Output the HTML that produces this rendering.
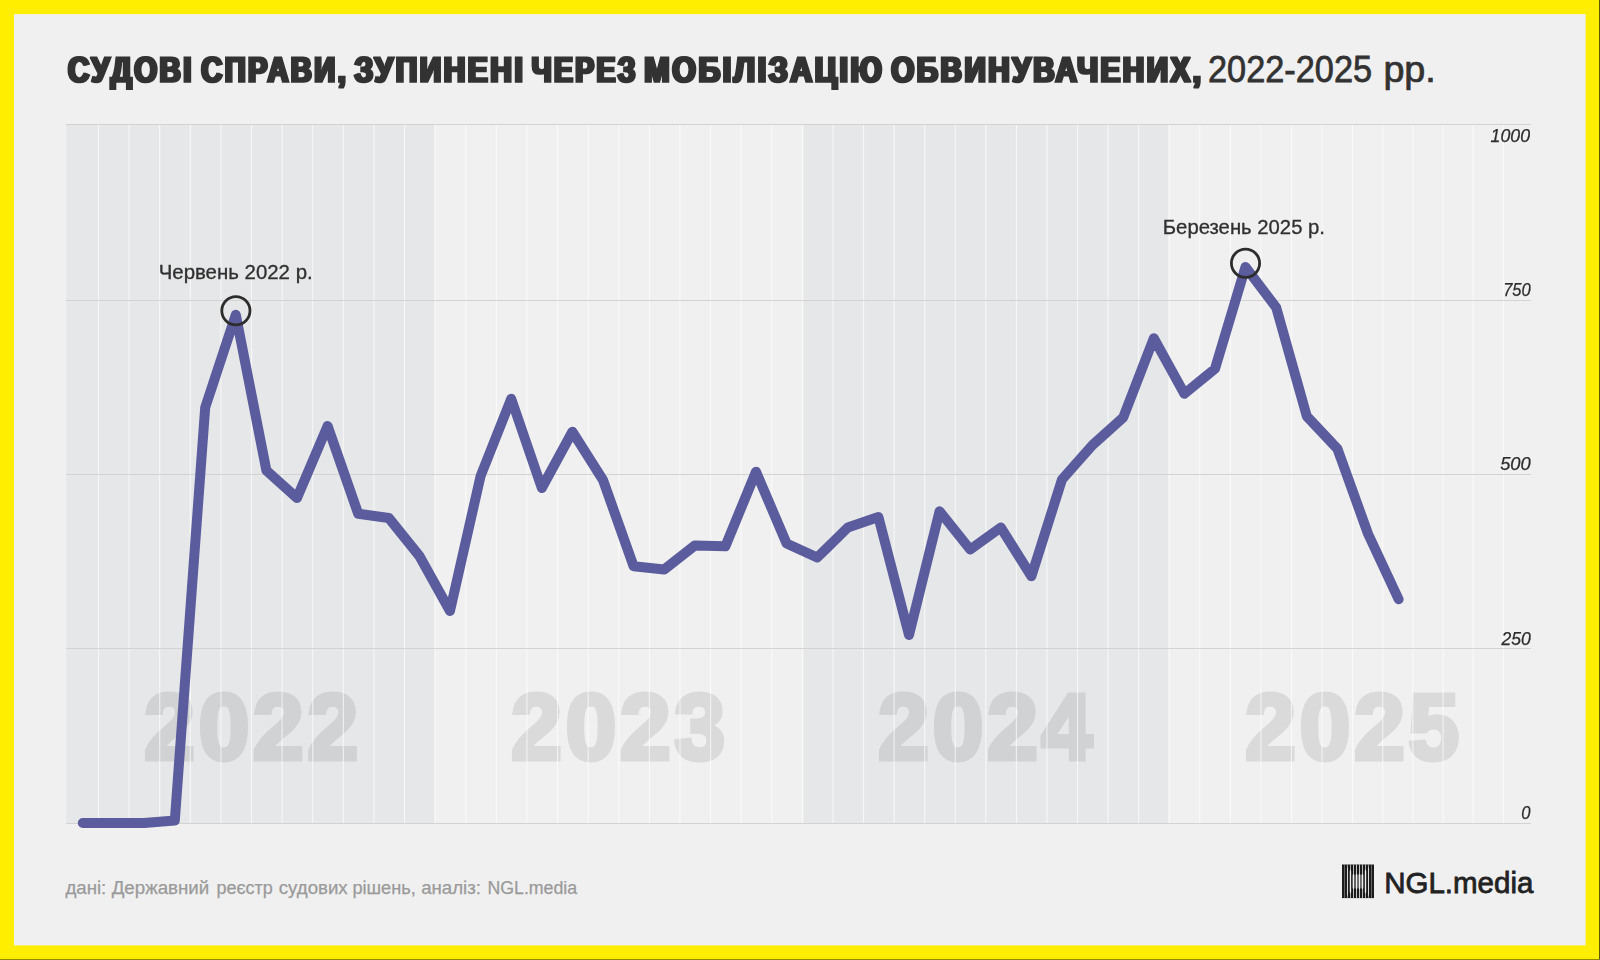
<!DOCTYPE html>
<html lang="uk">
<head>
<meta charset="utf-8">
<title>Судові справи, зупинені через мобілізацію обвинувачених, 2022-2025 рр.</title>
<style>
html,body{margin:0;padding:0;background:#ffee00;}
body{width:1600px;height:960px;overflow:hidden;position:relative;font-family:"Liberation Sans",sans-serif;}
svg{position:absolute;left:0;top:0;display:block}
text{font-family:"Liberation Sans",sans-serif}
.t{text-rendering:geometricPrecision;font-weight:700;font-size:35.9px;letter-spacing:3px;fill:#323232;stroke:#323232;stroke-width:1.7px;stroke-linejoin:miter;stroke-miterlimit:2;filter:url(#dil)}
.t2{font-weight:400;font-size:37px;fill:#323232;stroke:#323232;stroke-width:.75px}
.yl{font-style:italic;font-size:18.6px;fill:#2c2c2c;stroke:#2c2c2c;stroke-width:.25px}
.ann{font-size:19.5px;fill:#303030;stroke:#303030;stroke-width:.3px}
.yr{font-weight:700;font-size:92.5px;letter-spacing:4px;fill:#000;stroke:#000;stroke-width:5px;stroke-linejoin:miter;opacity:.092}
.src{font-size:18px;fill:#9a9a9a;stroke:#9a9a9a;stroke-width:.25px}
.lg{font-size:30px;fill:#222;stroke:#222;stroke-width:.8px}
</style>
</head>
<body>
<svg width="1600" height="960" viewBox="0 0 1600 960">
<defs><filter id="dil" x="-2%" y="-20%" width="104%" height="140%"><feMorphology operator="dilate" radius="1 0"/></filter></defs>
<rect x="0" y="0" width="1600" height="960" fill="#ffee00"/>
<rect x="1599" y="0" width="1" height="960" fill="#5f5800"/>
<rect x="0" y="959.1" width="1600" height=".9" fill="#857c00"/>
<rect x="14" y="14.1" width="1571.6" height="931.3" fill="#f0f0f0"/>

<!-- year bands -->
<rect x="66.3" y="124" width="367.9" height="699.5" fill="#e6e7e8"/>
<rect x="803.5" y="124" width="364.8" height="699.5" fill="#e6e7e8"/>

<!-- year watermarks -->
<g class="yr">
<text transform="translate(144.20 758.6) scale(0.9820 1)">2022</text>
<text transform="translate(511.20 758.6) scale(0.9820 1)">2023</text>
<text transform="translate(878.30 758.6) scale(0.9820 1)">2024</text>
<text transform="translate(1245.30 758.6) scale(0.9820 1)">2025</text>
</g>

<!-- vertical month gridlines -->
<g stroke="#fff" stroke-width="1.1" stroke-opacity=".68"><line x1="98.50" y1="124" x2="98.50" y2="823.5"/><line x1="129.10" y1="124" x2="129.10" y2="823.5"/><line x1="159.71" y1="124" x2="159.71" y2="823.5"/><line x1="190.31" y1="124" x2="190.31" y2="823.5"/><line x1="220.92" y1="124" x2="220.92" y2="823.5"/><line x1="251.52" y1="124" x2="251.52" y2="823.5"/><line x1="282.12" y1="124" x2="282.12" y2="823.5"/><line x1="312.73" y1="124" x2="312.73" y2="823.5"/><line x1="343.33" y1="124" x2="343.33" y2="823.5"/><line x1="373.94" y1="124" x2="373.94" y2="823.5"/><line x1="404.54" y1="124" x2="404.54" y2="823.5"/><line x1="435.15" y1="124" x2="435.15" y2="823.5"/><line x1="465.75" y1="124" x2="465.75" y2="823.5"/><line x1="496.35" y1="124" x2="496.35" y2="823.5"/><line x1="526.96" y1="124" x2="526.96" y2="823.5"/><line x1="557.56" y1="124" x2="557.56" y2="823.5"/><line x1="588.17" y1="124" x2="588.17" y2="823.5"/><line x1="618.77" y1="124" x2="618.77" y2="823.5"/><line x1="649.38" y1="124" x2="649.38" y2="823.5"/><line x1="679.98" y1="124" x2="679.98" y2="823.5"/><line x1="710.58" y1="124" x2="710.58" y2="823.5"/><line x1="741.19" y1="124" x2="741.19" y2="823.5"/><line x1="771.79" y1="124" x2="771.79" y2="823.5"/><line x1="802.40" y1="124" x2="802.40" y2="823.5"/><line x1="833.00" y1="124" x2="833.00" y2="823.5"/><line x1="863.56" y1="124" x2="863.56" y2="823.5"/><line x1="894.13" y1="124" x2="894.13" y2="823.5"/><line x1="924.69" y1="124" x2="924.69" y2="823.5"/><line x1="955.26" y1="124" x2="955.26" y2="823.5"/><line x1="985.82" y1="124" x2="985.82" y2="823.5"/><line x1="1016.39" y1="124" x2="1016.39" y2="823.5"/><line x1="1046.95" y1="124" x2="1046.95" y2="823.5"/><line x1="1077.52" y1="124" x2="1077.52" y2="823.5"/><line x1="1108.08" y1="124" x2="1108.08" y2="823.5"/><line x1="1138.65" y1="124" x2="1138.65" y2="823.5"/><line x1="1169.21" y1="124" x2="1169.21" y2="823.5"/><line x1="1199.78" y1="124" x2="1199.78" y2="823.5"/><line x1="1230.34" y1="124" x2="1230.34" y2="823.5"/><line x1="1260.91" y1="124" x2="1260.91" y2="823.5"/><line x1="1291.47" y1="124" x2="1291.47" y2="823.5"/><line x1="1322.04" y1="124" x2="1322.04" y2="823.5"/><line x1="1352.60" y1="124" x2="1352.60" y2="823.5"/><line x1="1382.74" y1="124" x2="1382.74" y2="823.5"/><line x1="1412.88" y1="124" x2="1412.88" y2="823.5"/><line x1="1443.02" y1="124" x2="1443.02" y2="823.5"/><line x1="1473.16" y1="124" x2="1473.16" y2="823.5"/><line x1="1503.30" y1="124" x2="1503.30" y2="823.5"/></g>
<!-- horizontal gridlines -->
<g stroke="#d3d3d3" stroke-width="1"><line x1="66" y1="124.5" x2="1531" y2="124.5"/><line x1="66" y1="300.5" x2="1531" y2="300.5"/><line x1="66" y1="474.5" x2="1531" y2="474.5"/><line x1="66" y1="648.5" x2="1531" y2="648.5"/><line x1="66" y1="823.5" x2="1531" y2="823.5"/></g>

<!-- y labels -->
<g class="yl">
<text x="1490.6" y="141.6" textLength="39.4" lengthAdjust="spacingAndGlyphs">1000</text>
<text x="1503.2" y="296.4" textLength="27.5" lengthAdjust="spacingAndGlyphs">750</text>
<text x="1500.2" y="470" textLength="30.5" lengthAdjust="spacingAndGlyphs">500</text>
<text x="1501.4" y="644.8" textLength="29.3" lengthAdjust="spacingAndGlyphs">250</text>
<text x="1521.2" y="818.8" textLength="9.2" lengthAdjust="spacingAndGlyphs">0</text>
</g>

<!-- data line -->
<polyline points="82.8,823.00 113.4,823.00 144.0,823.00 174.8,820.50 205.2,407.50 235.8,314.80 266.4,470.50 297.0,498.00 327.6,426.00 358.2,513.75 388.8,518.00 419.4,556.00 450.0,611.00 480.6,476.00 511.2,398.75 541.8,488.00 572.4,431.75 603.0,480.00 633.6,566.25 664.2,569.50 694.8,545.50 725.4,546.25 756.0,471.75 786.6,543.50 817.2,557.50 847.8,527.50 878.4,517.00 909.0,635.00 939.6,511.25 970.2,549.50 1000.8,527.50 1031.4,576.25 1062.0,479.50 1092.6,445.00 1123.2,417.50 1153.8,338.25 1184.4,393.75 1215.0,368.75 1245.5,267.00 1276.2,307.50 1306.8,416.25 1337.4,448.75 1368.0,533.75 1398.6,599.25" fill="none" stroke="#5b5c9d" stroke-width="10" stroke-linecap="round" stroke-linejoin="round"/>

<!-- annotations -->
<circle cx="235.9" cy="310.8" r="14.1" fill="none" stroke="#2d2d2d" stroke-width="2.8"/>
<circle cx="1245.5" cy="263.2" r="14.1" fill="none" stroke="#2d2d2d" stroke-width="2.8"/>
<text class="ann" x="158.7" y="278.85" textLength="154" lengthAdjust="spacingAndGlyphs">Червень 2022 р.</text>
<text class="ann" x="1162.8" y="234.1" textLength="162.2" lengthAdjust="spacingAndGlyphs">Березень 2025 р.</text>

<!-- title -->
<g class="t">
<text transform="translate(67.94 82.4) scale(0.8221 1)">СУДОВІ</text>
<text transform="translate(201.18 82.4) scale(0.8123 1)">СПРАВИ,</text>
<text transform="translate(354.39 82.4) scale(0.8344 1)">ЗУПИНЕНІ</text>
<text transform="translate(531.78 82.4) scale(0.7879 1)">ЧЕРЕЗ</text>
<text transform="translate(644.32 82.4) scale(0.8473 1)">МОБІЛІЗАЦІЮ</text>
<text transform="translate(891.23 82.4) scale(0.8266 1)">ОБВИНУВАЧЕНИХ,</text>
</g>
<g class="t2">
<text transform="translate(1208.04 82.3) scale(0.9277 1)">2022-2025</text>
<text transform="translate(1383.39 82.3) scale(1.0195 1)">рр.</text>
</g>

<!-- source -->
<g class="src">
<text x="65.4" y="893.7" textLength="40.9" lengthAdjust="spacingAndGlyphs">дані:</text>
<text x="111.7" y="893.7" textLength="97.6" lengthAdjust="spacingAndGlyphs">Державний</text>
<text x="216.4" y="893.7" textLength="56.4" lengthAdjust="spacingAndGlyphs">реєстр</text>
<text x="278.8" y="893.7" textLength="68.9" lengthAdjust="spacingAndGlyphs">судових</text>
<text x="352.4" y="893.7" textLength="63.4" lengthAdjust="spacingAndGlyphs">рішень,</text>
<text x="421.2" y="893.7" textLength="59.8" lengthAdjust="spacingAndGlyphs">аналіз:</text>
<text x="487.4" y="893.7" textLength="89.8" lengthAdjust="spacingAndGlyphs">NGL.media</text>
</g>

<!-- logo -->
<rect x="1342" y="864.5" width="32" height="33.6" fill="#1b1b1b"/>
<g fill="#f0f0f0"><path d="M1344.42 864.5H1344.77V898.1H1344.42Z"/><path d="M1347.17 864.5H1347.73V866.3L1347.90 868.5V894.5L1347.73 896.7V898.1H1347.17V896.7L1347.00 894.5V868.5L1347.17 866.3Z"/><path d="M1350.12 864.5H1350.78V869.3L1351.12 871.5V891.5L1350.78 893.7V898.1H1350.12V893.7L1349.78 891.5V871.5L1350.12 869.3Z"/><path d="M1353.12 864.5H1353.88V873.4L1354.35 875.6V887.4L1353.88 889.6V898.1H1353.12V889.6L1352.65 887.4V875.6L1353.12 873.4Z"/><path d="M1356.15 864.5H1356.95V873.4L1357.44 875.6V887.4L1356.95 889.6V898.1H1356.15V889.6L1355.66 887.4V875.6L1356.15 873.4Z"/><path d="M1359.10 864.5H1359.90V873.4L1360.39 875.6V887.4L1359.90 889.6V898.1H1359.10V889.6L1358.61 887.4V875.6L1359.10 873.4Z"/><path d="M1362.03 864.5H1362.78V873.4L1363.25 875.6V887.4L1362.78 889.6V898.1H1362.03V889.6L1361.55 887.4V875.6L1362.03 873.4Z"/><path d="M1365.17 864.5H1365.83V869.3L1366.17 871.5V891.5L1365.83 893.7V898.1H1365.17V893.7L1364.83 891.5V871.5L1365.17 869.3Z"/><path d="M1368.27 864.5H1368.83V866.3L1369.00 868.5V894.5L1368.83 896.7V898.1H1368.27V896.7L1368.10 894.5V868.5L1368.27 866.3Z"/><path d="M1371.23 864.5H1371.58V898.1H1371.23Z"/></g>
<text class="lg" x="1384.2" y="892.6" textLength="149.2" lengthAdjust="spacingAndGlyphs">NGL.media</text>
</svg>
</body>
</html>
